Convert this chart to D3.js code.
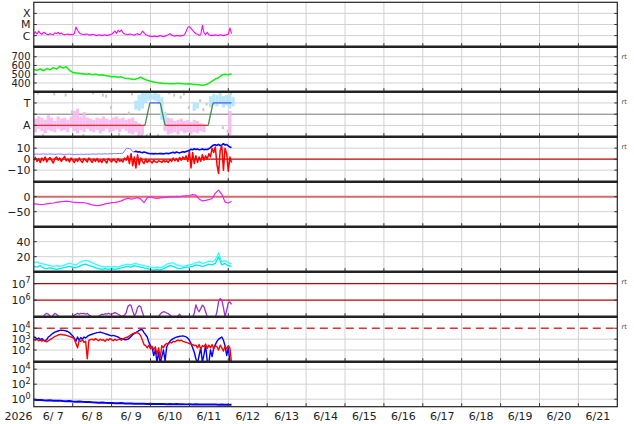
<!DOCTYPE html>
<html><head><meta charset="utf-8">
<script src="https://cdn.jsdelivr.net/npm/d3@7"></script>
<style>body{margin:0;background:#fff}svg{display:block}text{font-family:"DejaVu Sans",sans-serif;white-space:pre}</style>
</head><body><svg id="c" width="634" height="424"></svg>
<script>
// ---------------- DATA ----------------
const START = new Date(2026,5,7,0,0,0);
const END = new Date(2026,5,22,0,0,0);
const dayLabels = ["6/ 7","6/ 8","6/ 9","6/10","6/11","6/12","6/13","6/14","6/15","6/16","6/17","6/18","6/19","6/20","6/21"];
const yearLabel = "2026";

// X-ray flux, hourly, in units of 1e-6 W/m2 (C1 = 1)
const xray = [1.5,2.2,1.4,2.5,1.6,1.3,2.0,1.7,1.3,1.2,1.5,
 1.3,1.2,1.8,1.5,1.9,1.4,1.7,1.3,1.2,1.3,1.4,1.2,1.3,1.2,1.5,
 6.0,3.0,1.8,1.4,1.3,
 1.2,1.4,1.3,1.2,1.1,1.3,1.2,1.1,1.0,1.2,1.1,1.0,1.1,1.2,1.0,1.1,1.2,1.3,
 1.8,2.5,1.6,3.0,2.2,3.2,1.8,1.4,
 1.3,1.2,1.4,1.3,1.2,1.1,1.3,1.5,1.2,1.4,2.5,1.8,
 1.2,1.1,0.9,0.9,0.8,0.9,0.9,0.8,0.9,1.0,0.9,0.8,0.9,1.0,1.2,1.5,
 1.1,1.0,0.9,1.0,1.0,0.9,1.0,1.0,1.2,
 2.5,5.5,6.5,4.5,3.0,2.0,1.5,1.3,
 1.1,1.2,8.5,1.8,1.2,
 2.0,1.2,1.0,1.1,1.0,1.2,1.1,1.0,1.2,1.1,1.0,1.1,1.2,1.3,
 5.0,1.5];
const xrayTicks = [1e-4,1e-5,1e-6];
const xrayTickLabels = ["X","M","C"];

// Solar wind speed, every 2 hours (km/s)
const speed = [555,545,560,540,565,550,575,560,590,570,
 585,545,520,515,510,505,500,505,495,500,
 490,495,485,480,470,475,465,470,455,450,
 445,440,450,465,445,430,420,410,405,400,
 395,395,390,392,395,393,390,388,390,385,
 383,380,375,380,395,420,445,460,490,500,
 495,505];
const speedTicks = [700,600,500,400];

// IMF sector: ranges [hour, lo, hi] and scattered points [hour, value]
const sectorPink = [[0,-1.6,-0.4],[2,-1.3,-0.2],[4,-1.5,-0.3],[6,-1.7,-0.5],[8,-1.4,-0.1],[10,-1.5,-0.3],[12,-1.6,-0.6],[14,-1.3,-0.2],[16,-1.5,-0.4],[18,-1.4,-0.3],
 [20,-1.6,-0.5],[22,-1.2,-0.2],[24,-1.5,0.3],[26,-1.7,0.5],[28,-1.4,-0.2],[30,-1.6,0.2],[32,-1.3,-0.3],[34,-1.5,-0.4],[36,-1.6,-0.5],[38,-1.4,-0.3],
 [40,-1.7,-0.4],[42,-1.5,-0.2],[44,-1.3,-0.4],[46,-1.6,-0.5],[48,-1.5,-0.3],[50,-1.4,-0.2],[52,-1.6,-0.4],[54,-1.3,-0.3],[56,-1.5,-0.5],[58,-1.7,-0.4],
 [60,-1.8,-0.3],[62,-1.6,-0.6],[64,-1.9,-0.8],[66,-1.8,-1.0],
 [80,-1.5,-0.5],[82,-1.8,-0.3],[84,-1.7,-0.4],[86,-1.6,-0.6],[88,-1.8,-0.5],[90,-1.5,-0.4],[92,-1.7,-0.6],[94,-1.6,-0.5],[96,-1.8,-0.7],[98,-1.6,-0.5],
 [100,-1.7,-0.6],[102,-1.5,-0.8],[104,-1.6,-0.9],[120,-1.9,0.3]];
const sectorBlue = [[62,0.4,1.2],[64,0.3,1.7],[66,0.5,1.9],[68,1.0,1.9],[70,1.2,1.9],[72,1.3,1.8],[74,1.2,1.9],[76,0.9,1.8],[78,-0.5,1.5],[80,-0.8,0.2],
 [98,0.3,1.1],[100,0.5,1.0],[108,0.6,1.6],[110,0.8,1.8],[112,0.7,1.7],[114,0.9,1.9],[116,0.6,1.6],[118,0.8,1.7],[120,0.5,1.8],[122,0.7,1.5]];
const sectorGray = [[2,1.9],[5,-1.9],[12,1.8],[19,1.7],[23,0.2],[30,-1.9],[36,1.9],[42,1.7],[44,1.6],[47,0.6],[52,-1.8],[58,0.1],[60,1.8],[64,-1.9],[66,-1.85],
 [69,-1.9],[71,-1.8],[76,-1.9],[83,1.9],[86,1.7],[90,1.5],[92,1.8],[95,0.6],[102,1.2],[104,0.4],[106,0.9],[116,-1.2],[119,-1.5],[121,1.9]];
const sectorLineHours = [0,68.6,71.6,78,81,107.6,110.6,122];
const sectorLineVals = [-1,-1,1,1,-1,-1,1,1];
const sectorTicks = [1,-1];
const sectorTickLabels = ["T","A"];

// IMF Bt and Bz, hourly (nT)
const bt = [4.6,4.5,4.7,4.4,4.5,4.6,4.8,4.5,4.4,4.6,4.7,4.5,4.6,4.4,4.5,4.7,4.6,4.5,4.4,4.3,4.4,4.5,4.6,4.4,4.3,4.2,4.3,4.4,4.3,4.5,4.4,4.3,4.5,4.6,4.4,4.5,4.7,4.6,4.5,4.6,4.8,4.7,4.6,4.8,4.9,4.7,4.8,5.0,4.9,5.0,5.1,5.0,5.2,5.1,5.2,
 5.5,7.5,9.5,9.8,9.6,9.0,6.8,
 6.6,7.2,6.5,6.8,6.2,5.8,6.5,6.0,5.5,
 5.2,4.9,5.0,4.8,5.1,4.9,5.0,5.2,5.0,4.8,5.1,5.3,5.0,5.4,
 5.8,6.2,5.6,6.5,6.0,5.7,6.3,6.8,6.4,7.0,7.5,
 8.0,9.0,8.5,9.5,8.8,9.2,8.6,
 8.8,9.3,8.5,9.0,8.7,9.5,10.5,
 12.0,12.8,13.0,12.5,13.5,12.2,13.0,14.0,12.8,13.3,12.0,11.0,10.5];
const bz = [-1,1.5,-2,0.5,-3,1,-1.5,2,-2.5,0,1.5,-1,-3.5,0.5,2,-1,1,-2,0.5,2.5,-1.5,0,-2.5,1,-1,-3,0,-2,1,-1.5,-3,0.5,-1,-2.5,1,-1,-3,0,-2,0.5,-2.5,-1,-3,0,-1.5,-3.5,0.5,-1,-2.5,0,-1.5,-3,0.5,-2,-1,-2.5,1,-1,
 3,-4,5,-6,2,-8,4,-5,1,
 -2,-4,0,-3,-1,-2,-3.5,-1,-2.5,-3,-1.5,-2,-3,-1,-2.5,-1.5,-3,-0.5,-2,1,-1.5,0.5,-2,1.5,-1,2,0,3,-2,
 7,-8,6,-4,3,-3,2,-2,4,-1,3,0,5,2,
 10,6,11,-5,-13,8,12,-10,10,5,-11,2,-3];
const imfTicks = [10,0,-10];
const imfTickLabels = ["10","0","\u221210"];

// Dst, every 2 hours (nT)
const dst = [-24,-25,-26,-26,-24,-22,-21,-19,-17,-16,
 -15,-16,-18,-19,-20,-20,-21,-24,-27,-29,
 -30,-27,-24,-22,-20,-19,-17,-14,-9,-5,
 -8,-6,-3,-8,-20,-3,-1,-4,-6,-4,
 -3,-2,0,-1,1,0,2,3,4,7,
 5,-8,-14,-12,-10,-6,12,22,8,-18,
 -21,-15];
const dstTicks = [0,-50];
const dstTickLabels = ["0","\u221250"];

// Solar wind density, two sources, every 2 hours
const densA = [12,13,11,10,9,8,7,8,7,8,10,11,10,9,12,14,15,14,12,10,8,7,6,7,6,7,6,8,9,10,9,11,10,9,8,7,6,5,6,5,7,10,11,12,9,8,7,8,9,10,12,13,11,12,14,13,16,25,13,15,12,10];
const densB = [7,6,8,5,4,5,4,3,4,5,6,7,6,5,7,9,10,8,7,5,4,3,4,3,4,3,4,5,6,7,6,8,7,6,5,4,3,2,3,2,4,6,8,7,5,4,5,6,6,7,9,8,7,8,10,9,11,20,9,11,8,7];
const densTicks = [40,20];

// Electron flux log10, hourly
const elec = [4.8,4.8,4.9,4.9,4.9,4.95,5.0,
 5.15,5.2,5.15,5.05,4.95,5.1,5.2,5.15,5.05,
 4.9,4.85,4.8,4.8,4.85,4.9,4.95,4.95,5.0,
 5.1,5.15,5.2,5.15,5.2,5.18,5.2,5.15,5.2,5.1,5.05,
 4.95,4.9,4.9,4.95,5.0,
 5.1,5.15,5.12,5.18,5.15,5.2,5.17,5.15,5.2,5.25,5.2,5.15,5.1,
 5.0,5.05,5.1,
 5.25,5.6,5.72,5.68,5.35,5.05,5.2,5.55,5.66,5.6,5.25,
 5.0,4.95,4.9,4.85,4.8,4.8,4.85,4.9,4.95,5.0,
 5.15,5.25,5.3,5.28,5.22,5.18,5.1,
 5.0,4.95,4.9,4.95,5.05,5.15,
 5.0,4.9,4.85,4.8,4.8,4.85,4.9,5.0,
 5.2,5.72,5.45,5.3,5.5,5.7,5.6,5.3,
 5.0,4.9,4.85,4.8,4.85,4.95,
 5.3,5.9,6.1,6.0,5.55,5.0,
 5.4,5.85,5.9,5.75];
const elecRefExp = [7,6];

// Proton flux log10, hourly (two channels)
const protBlue = [3.2,3.15,3.0,3.1,2.95,3.05,2.9,2.85,2.95,3.2,
 3.3,3.45,3.55,3.65,3.7,3.75,3.8,3.82,3.8,3.78,3.75,3.7,3.6,
 3.45,3.3,3.1,2.8,3.2,2.9,3.15,3.0,3.2,3.1,3.25,3.35,
 3.4,3.45,3.5,3.55,3.6,3.62,3.65,3.6,3.55,3.5,3.45,3.4,3.35,3.3,3.35,3.3,3.25,3.2,3.1,3.05,3.0,2.95,
 2.95,3.0,3.1,3.25,3.4,3.5,3.6,3.7,3.8,3.88,3.85,3.6,3.4,3.2,2.7,2.4,
 2.2,1.5,2.0,0.9,1.8,0.8,1.4,2.0,1.0,2.3,2.6,
 2.8,2.95,3.05,3.12,3.18,3.22,3.26,3.28,3.3,3.26,3.2,3.1,2.9,2.6,2.2,1.8,
 1.2,0.8,1.5,2.2,0.9,1.6,2.4,1.0,0.8,2.0,1.4,2.2,2.5,
 2.8,3.0,3.1,3.2,2.9,
 2.4,1.5,2.2,0.9,0.8];
const protRed = [2.95,2.9,2.97,2.85,2.92,2.82,2.9,2.8,2.75,2.85,
 2.95,3.05,3.15,3.25,3.3,3.38,3.42,3.43,3.4,3.38,3.35,3.3,3.25,
 3.2,3.15,3.0,2.6,2.2,2.9,2.8,2.95,2.7,2.8,1.2,2.9,
 2.95,3.0,2.9,3.05,2.95,2.85,3.0,2.9,2.95,2.8,3.0,2.9,3.05,2.95,2.85,3.0,2.9,2.95,3.0,2.9,3.05,3.1,3.15,3.2,
 3.3,3.4,3.5,3.55,3.6,3.58,3.5,3.3,2.9,
 2.5,2.4,2.2,2.45,2.1,2.35,2.0,2.3,1.6,2.2,1.3,2.4,2.2,
 2.5,2.6,2.55,2.7,2.65,2.8,2.75,2.85,2.9,2.85,2.9,2.8,2.75,2.7,2.65,2.6,2.55,2.5,2.4,2.45,
 2.2,2.5,2.1,2.4,2.3,2.55,2.15,2.45,2.2,2.5,2.1,2.4,2.3,2.0,2.45,2.2,1.9,2.35,2.1,2.4,2.2,
 0.8];
const protTickExp = [4,3,2];
const protThresholdExp = 4;

// Bottom panel log10, every 2 hours
const lowFlux = [-0.08,-0.12,-0.1,-0.15,-0.18,-0.14,-0.2,-0.22,-0.19,-0.24,
 -0.27,-0.25,-0.3,-0.33,-0.3,-0.35,-0.38,-0.36,-0.41,-0.43,
 -0.46,-0.44,-0.48,-0.5,-0.49,-0.53,-0.55,-0.52,-0.56,-0.58,
 -0.57,-0.6,-0.59,-0.62,-0.6,-0.63,-0.61,-0.64,-0.63,-0.65,
 -0.64,-0.66,-0.64,-0.67,-0.65,-0.68,-0.66,-0.69,-0.67,-0.7,
 -0.68,-0.7,-0.69,-0.71,-0.7,-0.72,-0.7,-0.73,-0.72,-0.74,
 -0.73,-0.75];
const lowTickExp = [4,2,0];

// ---------------- LAYOUT ----------------
const W=634,H=424;
const X0=33.8, X1=617.3;
const PTOP=[2.3,46.7,91.7,136.7,181.7,226.7,271.7,316.7,361.7];
const PBOT=[46.7,91.7,136.7,181.7,226.7,271.7,316.7,361.7,406.7];
const svg=d3.select("#c");
svg.append("rect").attr("width",W).attr("height",H).attr("fill","#fff");

const x=d3.scaleTime().domain([START,END]).range([X0,X1]);
const tOf=h=>new Date(START.getTime()+h*3600000);
const p10=v=>Math.pow(10,v);

const ys=[
 d3.scaleLog().domain([1e-7,1e-3]),
 d3.scaleLinear().domain([300,815]),
 d3.scaleLinear().domain([-2,2]),
 d3.scaleLinear().domain([-20.5,20.4]),
 d3.scaleLinear().domain([-100,50]),
 d3.scaleLinear().domain([0,60]),
 d3.scaleLog().domain([1e5,p10(7.72)]),
 d3.scaleLog().domain([p10(0.93),p10(5.06)]),
 d3.scaleLog().domain([0.1,1e5])
];
ys.forEach((s,i)=>s.range([PBOT[i],PTOP[i]]));

const defs=svg.append("defs");
PTOP.forEach((t,i)=>{
 defs.append("clipPath").attr("id","cp"+i).append("rect")
  .attr("x",X0).attr("y",t).attr("width",X1-X0).attr("height",PBOT[i]-t);
});

const grid=svg.append("g");
const days=d3.timeDay.range(START,END);
days.slice(1).forEach(d=>{
 grid.append("line").attr("x1",x(d)).attr("x2",x(d)).attr("y1",PTOP[0]).attr("y2",PBOT[8])
  .attr("stroke","#d2d2d2").attr("stroke-width",1);
});
const gridY=[];
function hgrid(i,vals,color,w,dash){
 vals.forEach(v=>{
  const y=ys[i](v);
  gridY.push(y);
  const l=grid.append("line").attr("x1",X0).attr("x2",X1).attr("y1",y).attr("y2",y)
   .attr("stroke",color||"#d2d2d2").attr("stroke-width",w||1);
  if(dash) l.attr("stroke-dasharray",dash);
 });
}
hgrid(0,xrayTicks);
hgrid(1,speedTicks);
hgrid(2,sectorTicks);
hgrid(3,[10,-10]);
hgrid(4,[-50]);
hgrid(5,densTicks);
hgrid(7,[p10(3),p10(2)]);
hgrid(8,lowTickExp.map(p10));

hgrid(2,[0],"#777",1);
hgrid(3,[0],"#c00000",1.1);
hgrid(4,[0],"#d86a6a",2);
hgrid(6,elecRefExp.map(p10),"#c00000",1.1);

// ---------------- DATA MARKS ----------------
function series(i,vals,step,fn,color,w,defined){
 const g=svg.append("g").attr("clip-path","url(#cp"+i+")");
 const ln=d3.line().x((d,k)=>x(tOf(k*step))).y(d=>ys[i](fn(d)));
 if(defined) ln.defined(defined);
 g.append("path").attr("d",ln(vals)).attr("fill","none").attr("stroke",color)
  .attr("stroke-width",w).attr("stroke-linejoin","round");
 return g;
}
series(0,xray,1,v=>v*1e-6,"#ff00ff",1.1);
series(1,speed,2,v=>v,"#11ee11",1.5);
{
 const g=svg.append("g").attr("clip-path","url(#cp2)");
 const y=ys[2];
 g.selectAll("rect.gr").data(sectorGray).enter().append("rect")
  .attr("x",d=>x(tOf(d[0]))).attr("y",d=>y(d[1])-1.5).attr("width",2).attr("height",3).attr("fill","#c8c8c8");
 const bw=x(tOf(2))-x(tOf(0));
 g.selectAll("rect.pk").data(sectorPink).enter().append("rect")
  .attr("x",d=>x(tOf(d[0]))).attr("y",d=>y(d[2])).attr("width",bw).attr("height",d=>y(d[1])-y(d[2]))
  .attr("fill","#f7b8f0").attr("opacity",0.9);
 g.selectAll("rect.bl").data(sectorBlue).enter().append("rect")
  .attr("x",d=>x(tOf(d[0]))).attr("y",d=>y(d[2])).attr("width",bw).attr("height",d=>y(d[1])-y(d[2]))
  .attr("fill","#b0e4fb").attr("opacity",0.9);
 for(let k=0;k<sectorLineHours.length-1;k++){
  const a=sectorLineVals[k],b=sectorLineVals[k+1];
  const col=a!==b?"#4a8a4a":(a>0?"#4a5cff":"#ee2a2a");
  g.append("line").attr("x1",x(tOf(sectorLineHours[k]))).attr("x2",x(tOf(sectorLineHours[k+1])))
   .attr("y1",y(a)).attr("y2",y(b)).attr("stroke",col).attr("stroke-width",1.3);
 }
}
series(3,bt,1,v=>v,"#7a7aff",1,(d,k)=>k<=62);
series(3,bt,1,v=>v,"#0000ff",1.6,(d,k)=>k>=62);
series(3,bz,1,v=>v,"#ff0000",1.5);
series(4,dst,2,v=>v,"#ee22ee",1.2);
series(5,densB,2,v=>v,"#00e8e8",1.3);
series(5,densA,2,v=>v,"#33ffff",1.3);
series(6,elec,1,p10,"#9a32cd",1.3);
series(7,protBlue,1,p10,"#0000ff",1.4);
series(7,protRed,1,p10,"#ff0000",1.4);
hgrid(7,[p10(protThresholdExp)],"#e03030",1.4,"8,5");
series(8,lowFlux,2,p10,"#0000ff",2);

// ---------------- FRAME ----------------
const fr=svg.append("g");
fr.append("rect").attr("x",X0).attr("y",PTOP[0]).attr("width",X1-X0).attr("height",PBOT[8]-PTOP[0])
 .attr("fill","none").attr("stroke","#222").attr("stroke-width",1.2);
PBOT.slice(0,8).forEach(y=>{
 fr.append("line").attr("x1",X0-0.5).attr("x2",X1+0.5).attr("y1",y).attr("y2",y).attr("stroke","#222").attr("stroke-width",2.6);
});
days.slice(1).forEach(d=>{
 PBOT.forEach(y=>{
  fr.append("line").attr("x1",x(d)).attr("x2",x(d)).attr("y1",y-3.5).attr("y2",y).attr("stroke","#333").attr("stroke-width",1);
 });
});
gridY.forEach(y=>{
 fr.append("line").attr("x1",X1-3).attr("x2",X1).attr("y1",y).attr("y2",y).attr("stroke","#333").attr("stroke-width",1);
 fr.append("line").attr("x1",X0).attr("x2",X0+3).attr("y1",y).attr("y2",y).attr("stroke","#333").attr("stroke-width",1);
});

// ---------------- LABELS ----------------
const lab=svg.append("g").attr("font-size",11).attr("fill","#222");
const LX=30.5;
function ylab(i,vals,texts,fs){
 vals.forEach((v,k)=>{
  const t=lab.append("text").attr("x",LX).attr("y",ys[i](v)).attr("dy","0.36em").attr("text-anchor","end").text(texts[k]);
  if(fs) t.attr("font-size",fs);
 });
}
function ylabPow(i,exps){
 exps.forEach(e=>{
  const t=lab.append("text").attr("x",LX).attr("y",ys[i](p10(e))+4).attr("text-anchor","end");
  t.append("tspan").text("10");
  t.append("tspan").attr("dy",-4.5).attr("font-size",8).text(String(e));
 });
}
ylab(0,xrayTicks,xrayTickLabels);
ylab(1,speedTicks,speedTicks.map(String),10);
ylab(2,sectorTicks,sectorTickLabels);
ylab(3,imfTicks,imfTickLabels);
ylab(4,dstTicks,dstTickLabels);
ylab(5,densTicks,densTicks.map(String));
ylabPow(6,elecRefExp);
ylabPow(7,protTickExp);
ylabPow(8,lowTickExp);

days.forEach((d,k)=>{
 lab.append("text").attr("x",x(d3.timeHour.offset(d,12))).attr("y",420).attr("text-anchor","middle").text(dayLabels[k]);
});
lab.append("text").attr("x",18.5).attr("y",420).attr("text-anchor","middle").text(yearLabel);

[1,2,3,6,7].forEach(i=>{
 svg.append("text").attr("x",621.5).attr("y",PTOP[i]+12).attr("font-size",6.5).attr("fill","#444").text("rt");
});
</script></body></html>
